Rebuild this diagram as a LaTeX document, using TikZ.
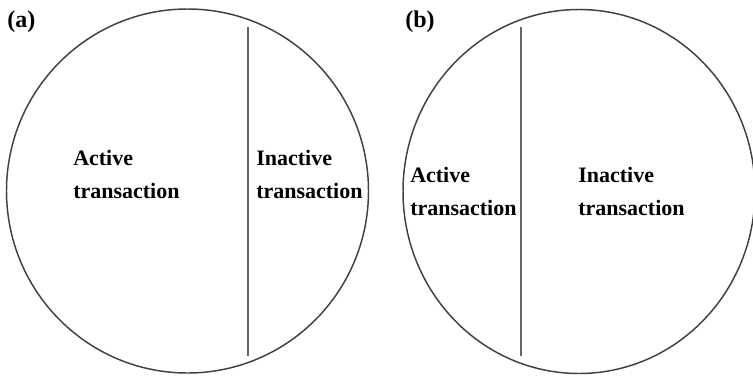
\documentclass[tikz,border=0pt]{standalone}
\usepackage{fontspec}
\setmainfont{Liberation Serif}

\begin{document}
\begin{tikzpicture}[x=0.75pt,y=-0.75pt,
  rim/.style={line width=1.1pt, black!75!},
  split/.style={line width=1.5pt, black!60!},
  part/.style={anchor=base west, align=left, inner sep=0, font=\bfseries\fontsize{16.5}{24.75}\selectfont},
  tag/.style={anchor=base west, inner sep=0, font=\bfseries\fontsize{18}{18}\selectfont}]
\clip (0,0) rectangle (753,375);

% CIRCLES
\draw [rim] (187.5,191) ellipse [x radius=181, y radius=182];
\draw [rim] (579,191.5) ellipse [x radius=176, y radius=182];

% DIVIDING LINES
\draw [split] (248,27) -- (248,356);
\draw [split] (521,27) -- (521,356);

% LABELS (base = last line)
\node [tag] (taga) at (7,27) {(a)};
\node [tag] (tagb) at (405,27) {(b)};
\node [part] (acta) at (73,198) {Active\\transaction};
\node [part] (ina) at (256,198) {Inactive\\transaction};
\node [part] (actb) at (410,215) {Active\\transaction};
\node [part] (inb) at (578,215) {Inactive\\transaction};
\end{tikzpicture}
\end{document}
